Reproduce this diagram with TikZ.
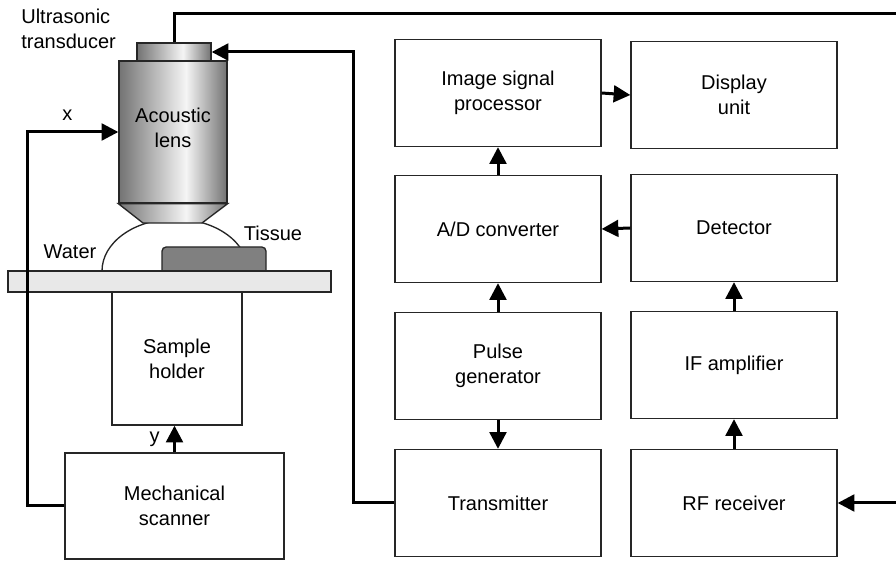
\documentclass[tikz,border=0pt]{standalone}
\usepackage{fontspec}
\setmainfont{Liberation Sans}
\usetikzlibrary{arrows.meta}
% brushed-metal look for the lens barrel and the transducer
\pgfdeclarehorizontalshading{metal}{100bp}{color(0bp)=(black!55); color(25bp)=(black!55);
  color(56bp)=(black!4); color(75bp)=(black!55); color(100bp)=(black!55)}

\begin{document}
\begin{tikzpicture}[x=0.6pt, y=-0.6pt,
  blk/.style={draw=black!85, line width=0.8pt, minimum width=123.6pt,
    minimum height=64.2pt, inner sep=0pt, align=center,
    font=\fontsize{12}{15}\selectfont},
  part/.style={draw=black!85, line width=0.8pt},
  lbl/.style={inner sep=0pt, align=center, font=\fontsize{12}{15}\selectfont},
  wire/.style={line width=1.8pt},
  sig/.style={wire, -{Triangle[length=10pt, width=10pt]}}]
\useasboundingbox (0,0) rectangle (896,562);
% ----- microscope head: water drop, lens barrel, transducer -----
\draw[part, fill=white] (102,271) arc[start angle=180, end angle=360,
  x radius=73, y radius=52];
\node[part, shade, shading=metal, minimum width=64.8pt, minimum height=85.2pt,
  inner sep=0pt] (lens) at (173,132) {};
\draw[part, shade, shading=metal] (lens.south west) -- (lens.south east)
  -- (202,223) -- (143,223) -- cycle;
\node[part, shade, shading=metal, minimum width=44.4pt, minimum height=10.8pt,
  inner sep=0pt] (xdcr) at (174,52) {};
\draw[part, fill=black!50, rounded corners=2.5pt]
  (162,271) -- (162,247) -- (266,247) -- (266,271);
% ----- stage, sample holder, scanner -----
\node[blk, minimum width=78pt, minimum height=79.8pt] (holder) at (177,358.5)
  {Sample\\holder};
\draw[part, fill=black!9] (8,271) rectangle (331,292);
\node[blk, minimum width=131.4pt, minimum height=63.6pt] (scan) at (174.5,506)
  {Mechanical\\scanner};
\node[lbl, anchor=west, align=left] (xdcrlab) at (21,29)
  {Ultrasonic\\transducer};
\node[lbl] (lenslab) at (173,128) {Acoustic\\lens};
\node[lbl] (waterlab) at (70,252) {Water};
\node[lbl] (tissuelab) at (273,233) {Tissue};
% ----- electronics -----
\foreach \nm/\pos/\txt in {isp/{(498,93)}/{Image signal\\processor},
    disp/{(734,95)}/{Display\\unit}, adc/{(498,229)}/{A/D converter},
    det/{(734,228)}/{Detector}, pulse/{(498,366)}/{Pulse\\generator},
    ifamp/{(734,365)}/{IF amplifier}, tx/{(498,503)}/{Transmitter},
    rf/{(734,503)}/{RF receiver}}{
  \node[blk] (\nm) at \pos {\txt};
}
\foreach \a/\b in {adc/isp, pulse/adc, ifamp/det, rf/ifamp}{
  \draw[sig] (\a.north) -- (\b.south);
}
\draw[sig] (pulse.south) -- (tx.north);
\draw[sig] (isp.east) -- (disp.west);
\draw[sig] (det.west) -- (adc.east);
% ----- wiring to the head -----
\coordinate (topout) at (896,14);
\coordinate (rfin) at (896,503);
\draw[wire] (xdcr.north) |- (topout);
\draw[sig] (rfin) -- (rf.east);
\draw[sig] (tx.west) -- ++(-41,0) |- (xdcr.east);
\draw[sig] (scan.west) -- ++(-37,0) |- (lens.west)
  node[lbl, pos=0.72, above=6pt] {x};
\draw[sig] (scan.north) -- (scan.north |- holder.south)
  node[lbl, midway, left=8pt] {y};
\end{tikzpicture}
\end{document}
